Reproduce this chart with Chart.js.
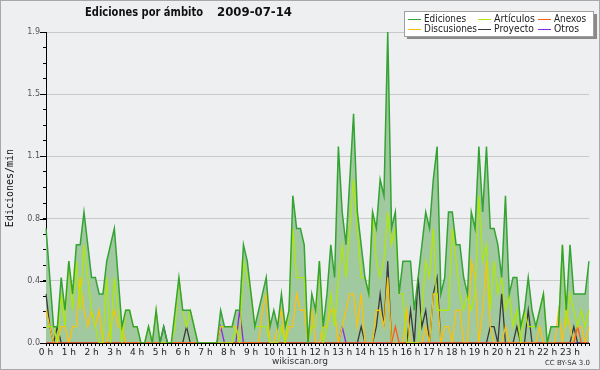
<!DOCTYPE html>
<html>
<head>
<meta charset="utf-8">
<script src="https://cdn.jsdelivr.net/npm/chart.js@4.4.0/dist/chart.umd.min.js"></script>
<style>
html, body { margin: 0; padding: 0; background: #eeeff1; }
#grafico { display: block; }
</style>
</head>
<body>
<div style="width:600px;height:370px"><canvas id="grafico" width="600" height="370"></canvas></div>
<script>
const titulo = 'Ediciones por ámbito';
const fecha = '2009-07-14';

const etiquetasHoras = ['0 h', '1 h', '2 h', '3 h', '4 h', '5 h', '6 h', '7 h', '8 h', '9 h', '10 h', '11 h',
    '12 h', '13 h', '14 h', '15 h', '16 h', '17 h', '18 h', '19 h', '20 h', '21 h', '22 h', '23 h'];
const minutosTramo = ['00', '10', '20', '30', '40', '50'];
const etiquetasY = ['0.0', '0.4', '0.8', '1.1', '1.5', '1.9'];
const maximoY = 1.9;

// un valor cada 10 minutos, una fila por hora
const ediciones = [
    0.7, 0.4, 0.1, 0.1, 0.4, 0.2,
    0.5, 0.3, 0.6, 0.6, 0.8, 0.6,
    0.4, 0.4, 0.3, 0.3, 0.5, 0.6,
    0.7, 0.4, 0.1, 0.2, 0.2, 0.1,
    0.1, 0, 0, 0.1, 0, 0.2,
    0, 0.1, 0, 0, 0.2, 0.4,
    0.2, 0.2, 0.2, 0.1, 0, 0,
    0, 0, 0, 0, 0.2, 0.1,
    0.1, 0.1, 0.2, 0.2, 0.6, 0.5,
    0.3, 0.1, 0.2, 0.3, 0.4, 0.1,
    0.2, 0.1, 0.3, 0.1, 0.2, 0.9,
    0.7, 0.7, 0.6, 0, 0.3, 0.2,
    0.5, 0.1, 0.3, 0.6, 0.4, 1.2,
    0.8, 0.6, 1.0, 1.4, 0.8, 0.6,
    0.4, 0.3, 0.8, 0.7, 1.0, 0.9,
    1.9, 0.7, 0.8, 0.3, 0.5, 0.5,
    0.5, 0.2, 0.4, 0.6, 0.8, 0.7,
    1.0, 1.2, 0.3, 0.4, 0.8, 0.8,
    0.6, 0.6, 0.4, 0.3, 0.8, 0.7,
    1.2, 0.8, 1.2, 0.7, 0.7, 0.6,
    0.4, 0.9, 0.3, 0.4, 0.4, 0.1,
    0.2, 0.4, 0.2, 0.1, 0.2, 0.3,
    0, 0.1, 0.1, 0.1, 0.6, 0.2,
    0.6, 0.3, 0.3, 0.3, 0.3, 0.5
];

const articulos = [
    0.1, 0.1, 0.1, 0, 0.3, 0.1,
    0.5, 0.2, 0.5, 0.2, 0.6, 0.4,
    0.2, 0.1, 0, 0, 0.4, 0,
    0.4, 0.2, 0, 0.2, 0.2, 0.1,
    0.1, 0, 0, 0.1, 0, 0.2,
    0, 0, 0, 0, 0.1, 0.4,
    0.2, 0.1, 0.2, 0.1, 0, 0,
    0, 0, 0, 0, 0, 0,
    0, 0, 0.1, 0, 0.5, 0.4,
    0.3, 0.1, 0.1, 0.1, 0.1, 0,
    0, 0, 0.1, 0, 0.2, 0.7,
    0.4, 0.4, 0.4, 0, 0.1, 0.1,
    0.5, 0, 0.1, 0.3, 0.1, 0.4,
    0.6, 0.4, 0.7, 1.0, 0.7, 0.4,
    0.4, 0.3, 0.8, 0.5, 0.4, 0.5,
    0.8, 0.6, 0.7, 0.3, 0.3, 0,
    0, 0, 0, 0.2, 0.5, 0.4,
    0.7, 0.2, 0.2, 0.2, 0.2, 0.7,
    0.5, 0.3, 0.2, 0.3, 0.2, 0.3,
    0.9, 0.5, 0.6, 0.2, 0.5, 0.3,
    0.4, 0.2, 0.3, 0.1, 0.2, 0,
    0.2, 0.1, 0.1, 0.1, 0.2, 0.3,
    0, 0.1, 0.1, 0.1, 0.6, 0.1,
    0.3, 0.2, 0.1, 0.2, 0.1, 0.2
];

const discusiones = [
    0.2, 0.1, 0, 0, 0.1, 0.1,
    0, 0.1, 0.1, 0.4, 0.2, 0.1,
    0.2, 0.1, 0.2, 0, 0, 0.1,
    0.2, 0.1, 0.1, 0, 0, 0,
    0, 0, 0, 0, 0, 0,
    0, 0, 0, 0, 0, 0,
    0, 0, 0, 0, 0, 0,
    0, 0, 0, 0, 0.1, 0.1,
    0.1, 0.1, 0.1, 0, 0, 0,
    0, 0, 0, 0.2, 0.3, 0,
    0, 0.1, 0.2, 0, 0.1, 0.1,
    0.3, 0.2, 0.2, 0, 0.2, 0,
    0, 0.1, 0.1, 0.2, 0.2, 0,
    0.1, 0.2, 0.3, 0.3, 0.1, 0.3,
    0, 0, 0, 0.2, 0.2, 0.1,
    0.4, 0, 0, 0, 0, 0.2,
    0, 0, 0, 0, 0.1, 0,
    0.3, 0.3, 0, 0.1, 0.1, 0,
    0.2, 0.2, 0, 0, 0.5, 0.4,
    0, 0.2, 0.5, 0.1, 0, 0,
    0, 0.1, 0, 0, 0, 0,
    0, 0, 0, 0, 0.1, 0,
    0, 0, 0, 0.2, 0, 0.2,
    0.1, 0, 0.1, 0.1, 0, 0.1
];

const proyecto = [
    0.3, 0.1, 0, 0.1, 0, 0,
    0, 0, 0, 0, 0, 0,
    0, 0, 0, 0, 0, 0,
    0, 0, 0, 0, 0, 0,
    0, 0, 0, 0, 0, 0,
    0, 0.1, 0, 0, 0, 0,
    0, 0.1, 0, 0, 0, 0,
    0, 0, 0, 0, 0, 0,
    0, 0, 0, 0, 0, 0,
    0, 0, 0, 0, 0, 0,
    0, 0, 0, 0, 0, 0,
    0, 0, 0, 0, 0, 0,
    0, 0, 0, 0, 0, 0,
    0, 0, 0, 0, 0, 0.1,
    0, 0, 0, 0.1, 0.3, 0.1,
    0.5, 0, 0, 0, 0, 0,
    0.2, 0, 0.4, 0.1, 0.2, 0,
    0.3, 0.4, 0, 0, 0, 0,
    0, 0, 0, 0, 0, 0,
    0, 0, 0, 0.1, 0.1, 0,
    0.3, 0, 0, 0, 0.1, 0,
    0, 0.2, 0, 0, 0, 0,
    0, 0, 0, 0, 0, 0,
    0, 0.1, 0, 0, 0, 0
];

const anexos = [
    0, 0, 0, 0, 0, 0,  0, 0, 0, 0, 0, 0,  0, 0, 0, 0, 0, 0,  0, 0, 0, 0, 0, 0,
    0, 0, 0, 0, 0, 0,  0, 0, 0, 0, 0, 0,  0, 0, 0, 0, 0, 0,  0, 0, 0, 0, 0, 0,
    0, 0, 0, 0, 0, 0,  0, 0, 0, 0, 0, 0,  0, 0, 0, 0, 0, 0,  0, 0, 0, 0, 0, 0,
    0, 0, 0, 0, 0, 0,  0, 0, 0, 0, 0, 0,  0, 0, 0, 0, 0, 0,  0, 0, 0, 0, 0, 0,
    0, 0, 0, 0, 0, 0,  0, 0, 0, 0, 0, 0,  0, 0, 0, 0, 0, 0,  0, 0, 0, 0, 0, 0,
    0, 0, 0, 0, 0, 0,  0, 0, 0, 0, 0, 0,  0, 0, 0, 0, 0, 0,  0, 0, 0, 0, 0, 0,
    0, 0, 0, 0, 0, 0,  0, 0, 0, 0, 0, 0,  0, 0, 0, 0, 0, 0,  0, 0, 0, 0, 0, 0,
    0, 0, 0, 0, 0, 0,  0, 0, 0, 0, 0, 0,  0, 0, 0, 0, 0, 0,  0, 0, 0, 0, 0, 0
];
anexos[92] = 0.1;
anexos[140] = 0.1;

const otros = [
    0, 0, 0, 0, 0, 0,  0, 0, 0, 0, 0, 0,  0, 0, 0, 0, 0, 0,  0, 0, 0, 0, 0, 0,
    0, 0, 0, 0, 0, 0,  0, 0, 0, 0, 0, 0,  0, 0, 0, 0, 0, 0,  0, 0, 0, 0, 0.1, 0,
    0, 0, 0, 0.2, 0, 0,  0, 0, 0, 0, 0, 0,  0, 0, 0, 0, 0, 0,  0, 0, 0, 0, 0, 0,
    0, 0, 0, 0, 0, 0,  0.1, 0, 0, 0, 0, 0,  0, 0, 0, 0, 0, 0,  0, 0, 0, 0, 0, 0,
    0, 0, 0, 0, 0, 0,  0, 0, 0, 0, 0, 0,  0, 0, 0, 0, 0, 0,  0, 0, 0, 0, 0, 0,
    0, 0, 0, 0, 0, 0,  0, 0, 0, 0, 0, 0,  0, 0, 0, 0, 0, 0,  0, 0, 0, 0, 0, 0
];

const intervalos = etiquetasHoras.flatMap(h => minutosTramo.map(m => h.replace(' h', '') + ':' + m));

const series = ['Ediciones', 'Artículos', 'Anexos', 'Discusiones', 'Proyecto', 'Otros'];
const colores = ['#34a334', '#aee80a', '#ff5a1e', '#fbc20c', '#3a3a3a', '#8a2be2'];
const datosSeries = [ediciones, articulos, anexos, discusiones, proyecto, otros];

const fuente = '"DejaVu Sans", sans-serif';

// escribe un texto comprimido horizontalmente hasta el ancho pedido
function textoAjustado(c, texto, x, y, ancho) {
    const medida = c.measureText(texto).width;
    const factor = Math.min(1, ancho / medida);
    c.save();
    c.translate(x, y);
    c.scale(factor, 1);
    c.fillText(texto, 0, 0);
    c.restore();
}

const fondo = {
    id: 'fondo',
    beforeDraw(chart) {
        const c = chart.ctx;
        c.save();
        c.fillStyle = '#eeeff1';
        c.fillRect(0, 0, chart.width, chart.height);
        c.strokeStyle = '#a8a8a8';
        c.lineWidth = 1;
        c.strokeRect(0.5, 0.5, chart.width - 1, chart.height - 1);
        c.restore();
    }
};

const adornos = {
    id: 'adornos',
    afterDraw(chart) {
        const c = chart.ctx;
        const area = chart.chartArea;
        const escalaY = chart.scales.y;
        c.save();

        // marcas largas en las divisiones principales
        c.strokeStyle = '#000';
        c.lineWidth = 1;
        etiquetasY.forEach((t, i) => {
            const y = Math.round(escalaY.getPixelForValue(i * maximoY / 5)) + 0.5;
            c.beginPath();
            c.moveTo(area.left - 6, y);
            c.lineTo(area.left, y);
            c.stroke();
        });

        // titulo
        c.fillStyle = '#111';
        c.font = 'bold 13px ' + fuente;
        c.textBaseline = 'middle';
        c.textAlign = 'left';
        textoAjustado(c, titulo, 85, 13, 118);
        textoAjustado(c, fecha, 217, 13, 75);

        // eje vertical
        c.save();
        c.translate(10, 188);
        c.rotate(-Math.PI / 2);
        c.font = '10px "DejaVu Sans Mono", monospace';
        c.textAlign = 'center';
        c.fillStyle = '#111';
        c.fillText('Ediciones/min', 0, 0);
        c.restore();

        // leyenda
        c.fillStyle = '#8a8a8a';
        c.fillRect(407, 14, 190, 25);
        c.fillStyle = '#ffffff';
        c.fillRect(404, 11, 190, 25);
        c.strokeStyle = '#a0a0a0';
        c.strokeRect(404.5, 11.5, 189, 25);
        const columnas = [408, 478, 538];
        const filas = [19.5, 29.5];
        const anchos = [42, 41, 32, 53, 40, 25];
        c.font = '10px ' + fuente;
        c.textAlign = 'left';
        series.forEach((nombre, i) => {
            const x = columnas[i % 3];
            const y = filas[Math.floor(i / 3)];
            c.strokeStyle = colores[i];
            c.beginPath();
            c.moveTo(x, y);
            c.lineTo(x + 13, y);
            c.stroke();
            c.fillStyle = '#222';
            textoAjustado(c, nombre, x + 16, y, anchos[i]);
        });

        // pie
        c.fillStyle = '#333';
        c.font = '9px ' + fuente;
        c.textAlign = 'center';
        c.fillText('wikiscan.org', 300, 362);
        c.font = '7px ' + fuente;
        c.textAlign = 'right';
        c.fillText('CC BY-SA 3.0', 590, 363);

        c.restore();
    }
};

function crearGrafico() {
    const datasets = datosSeries.map((datos, i) => ({
        label: series[i],
        data: datos,
        borderColor: colores[i],
        borderWidth: i === 0 ? 1.5 : 1.3,
        backgroundColor: i === 0 ? '#a1c99f' : colores[i],
        fill: i === 0 ? 'origin' : false,
        pointRadius: 0,
        tension: 0
    }));

    const config = {
        type: 'line',
        data: { labels: intervalos, datasets: datasets },
        options: {
            responsive: false,
            animation: false,
            layout: { padding: { left: 0, top: 32, right: 11, bottom: 0 } },
            plugins: {
                legend: { display: false },
                title: { display: false },
                tooltip: { enabled: false },
                filler: { drawTime: 'beforeDatasetsDraw' }
            },
            scales: {
                x: {
                    afterFit(scale) { scale.height = 27; },
                    border: { color: '#000', width: 1 },
                    grid: { drawOnChartArea: false, tickLength: 3, tickColor: '#000' },
                    ticks: {
                        autoSkip: false,
                        maxRotation: 0,
                        padding: 1,
                        color: '#222',
                        font: { family: fuente, size: 9 },
                        callback: (v, i) => i % 6 === 0 ? etiquetasHoras[i / 6] : ''
                    }
                },
                y: {
                    min: 0,
                    max: maximoY,
                    afterFit(scale) { scale.width = 46; },
                    afterBuildTicks(scale) {
                        scale.ticks = Array.from({ length: 21 }, (_, k) => ({ value: k * maximoY / 20 }));
                    },
                    border: { color: '#000', width: 1 },
                    grid: {
                        tickLength: 3,
                        tickColor: '#000',
                        color: ctx => (ctx.index % 4 === 0 && ctx.index > 0) ? '#c9c9c9' : 'rgba(0,0,0,0)'
                    },
                    ticks: {
                        padding: 3,
                        color: '#555',
                        font: { family: fuente, size: 8 },
                        callback: (v, i) => i % 4 === 0 ? etiquetasY[i / 4] : ''
                    }
                }
            }
        },
        plugins: [fondo, adornos]
    };

    const lienzo = document.getElementById('grafico');
    if (lienzo) {
        new Chart(lienzo.getContext('2d'), config);
    }
}

crearGrafico();
</script>
</body>
</html>
